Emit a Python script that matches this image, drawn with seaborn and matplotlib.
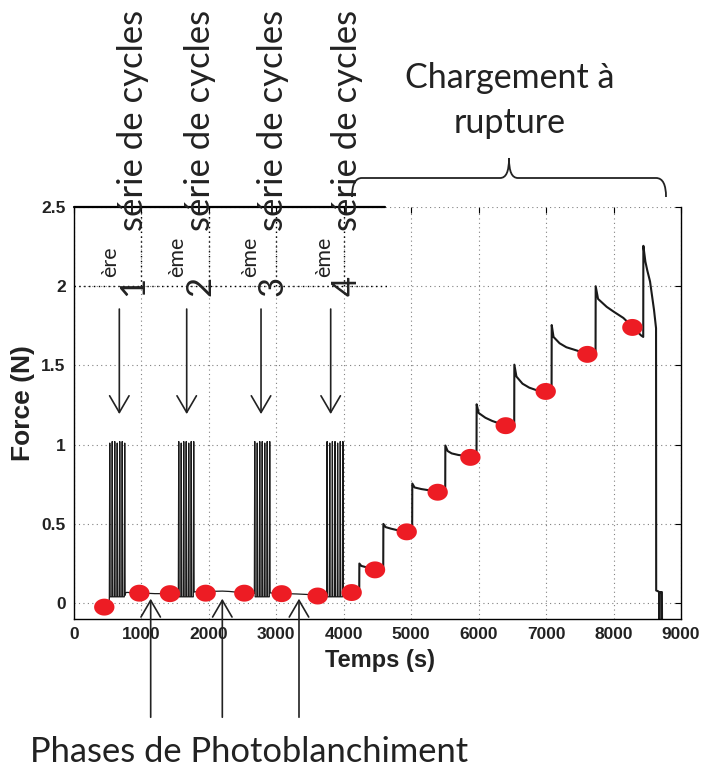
import numpy as np
import pandas as pd
import matplotlib
matplotlib.use("Agg")
import matplotlib.pyplot as plt
import seaborn as sns
from matplotlib.path import Path
from matplotlib.patches import PathPatch
from matplotlib.transforms import Affine2D

# ---------------- data ----------------
pre_t = [380, 450, 500, 520, 524]
pre_f = [-0.02, -0.025, -0.015, -0.01, 0.04]

block1_t = [530, 536, 561, 567, 573, 598, 604, 610, 635, 641, 647, 672, 678, 684, 709, 715, 721, 746, 752, 758, 766]
block1_f = [1.01, 0.04, 0.04, 1.02, 0.04, 0.04, 1.02, 0.04, 0.04, 1.01, 0.04, 0.04, 1.02, 0.04, 0.04, 1.02, 0.04, 0.04, 1.01, 0.05, 0.065]
rest1_t = [780, 900, 1000, 1100, 1200, 1300, 1420, 1500, 1547]
rest1_f = [0.068, 0.065, 0.063, 0.062, 0.06, 0.06, 0.06, 0.063, 0.065]

block2_t = [1553, 1559, 1584, 1590, 1596, 1621, 1627, 1633, 1658, 1664, 1670, 1695, 1701, 1707, 1732, 1738, 1744, 1769, 1775, 1781]
block2_f = [1.02, 0.04, 0.04, 1.01, 0.04, 0.04, 1.02, 0.04, 0.04, 1.02, 0.04, 0.04, 1.01, 0.04, 0.04, 1.02, 0.04, 0.04, 1.02, 0.07]
rest2_t = [1800, 1950, 2100, 2200, 2300, 2450, 2550, 2674]
rest2_f = [0.072, 0.07, 0.075, 0.076, 0.074, 0.068, 0.065, 0.063]

block3_t = [2680, 2686, 2711, 2717, 2723, 2748, 2754, 2760, 2785, 2791, 2797, 2822, 2828, 2834, 2859, 2865, 2871, 2896, 2902, 2908]
block3_f = [1.02, 0.04, 0.04, 1.01, 0.04, 0.04, 1.02, 0.04, 0.04, 1.02, 0.04, 0.04, 1.01, 0.04, 0.04, 1.02, 0.04, 0.04, 1.02, 0.065]
rest3_t = [2930, 3050, 3150, 3300, 3450, 3600, 3700, 3747]
rest3_f = [0.064, 0.062, 0.06, 0.058, 0.055, 0.05, 0.05, 0.05]

block4_t = [3753, 3759, 3786, 3792, 3798, 3825, 3831, 3837, 3864, 3870, 3876, 3903, 3909, 3915, 3942, 3948, 3954, 3981, 3987, 3993]
block4_f = [1.02, 0.04, 0.04, 1.01, 0.04, 0.04, 1.02, 0.04, 0.04, 1.02, 0.04, 0.04, 1.01, 0.04, 0.04, 1.02, 0.04, 0.04, 1.02, 0.06]
rest4_t = [4010, 4100, 4200, 4229]
rest4_f = [0.062, 0.065, 0.065, 0.065]

ramp_t = [4231, 4260, 4350, 4460, 4585,
          4587, 4620, 4700, 4800, 4933, 5014,
          5016, 5050, 5150, 5300, 5400, 5504,
          5506, 5540, 5600, 5700, 5800, 5968,
          5970, 6000, 6100, 6200, 6300, 6400, 6527,
          6529, 6560, 6650, 6750, 6850, 7000, 7081,
          7083, 7110, 7200, 7300, 7450, 7600, 7733,
          7735, 7770, 7898, 8000, 8145, 8279, 8407, 8440]
ramp_f = [0.25, 0.235, 0.225, 0.215, 0.21,
          0.50, 0.48, 0.47, 0.46, 0.455, 0.45,
          0.755, 0.73, 0.72, 0.71, 0.70, 0.695,
          0.995, 0.96, 0.945, 0.935, 0.93, 0.915,
          1.255, 1.20, 1.17, 1.15, 1.135, 1.125, 1.11,
          1.505, 1.43, 1.385, 1.36, 1.345, 1.335, 1.33,
          1.755, 1.68, 1.64, 1.615, 1.595, 1.575, 1.565,
          2.00, 1.92, 1.87, 1.84, 1.80, 1.745, 1.69, 1.68]

rupture_t = [8442, 8472, 8500, 8541, 8600, 8630, 8632, 8660, 8677, 8679, 8681, 8700, 8717, 8719]
rupture_f = [2.255, 2.155, 2.10, 2.03, 1.85, 1.735, 0.08, 0.075, 0.07, -0.15, 0.07, 0.07, 0.07, -0.15]

dot_t = [449, 969, 1423, 1952, 2525, 3079, 3613, 4117, 4463, 4933, 5392, 5877, 6401, 6994, 7612, 8279]
dot_f = [-0.025, 0.063, 0.06, 0.063, 0.063, 0.06, 0.045, 0.067, 0.21, 0.45, 0.70, 0.92, 1.12, 1.336, 1.57, 1.74]

x_ticks = [0, 1000, 2000, 3000, 4000, 5000, 6000, 7000, 8000, 9000]
y_ticks = [0, 0.5, 1, 1.5, 2, 2.5]
y_tick_labels = ["0", "0.5", "1", "1.5", "2", "2.5"]

series_numbers = ["1", "2", "3", "4"]
series_suffix = ["ère", "ème", "ème", "ème"]
series_arrow_t = [672, 1671, 2773, 3806]
series_arrow_from, series_arrow_to = 1.856, 1.193
photo_arrow_t = [1137, 2199, 3336]
photo_arrow_from, photo_arrow_to = -0.72, 0.028

overlay_vx = [1000, 2000, 3000, 4000]

cycles_t = pre_t + block1_t + rest1_t + block2_t + rest2_t + block3_t + rest3_t + block4_t + rest4_t
cycles_f = pre_f + block1_f + rest1_f + block2_f + rest2_f + block3_f + rest3_f + block4_f + rest4_f
loading_t = rest4_t[-1:] + ramp_t + rupture_t
loading_f = rest4_f[-1:] + ramp_f + rupture_f
cycles = pd.DataFrame({"Temps": cycles_t, "Force": cycles_f})
loading = pd.DataFrame({"Temps": loading_t, "Force": loading_f})
dots = pd.DataFrame({"Temps": dot_t, "Force": dot_f})

# ---------------- figure ----------------
W, H = 702, 769
sns.set_theme(style="white")
plt.rcParams["font.family"] = ["Liberation Sans", "DejaVu Sans"]

fig = plt.figure(figsize=(W / 100, H / 100), dpi=100)
ax = fig.add_axes([74 / W, 1 - 619 / H, 607 / W, 412 / H])
px = Affine2D().scale(1 / W, -1 / H).translate(0, 1) + fig.transFigure

sns.lineplot(data=cycles, x="Temps", y="Force", sort=False, estimator=None,
             color="#1a1a1a", lw=0.9, ax=ax, zorder=2)
sns.lineplot(data=loading, x="Temps", y="Force", sort=False, estimator=None,
             color="#1a1a1a", lw=1.5, ax=ax, zorder=2)

th = np.linspace(0, 2 * np.pi, 40)
ellipse = Path(np.column_stack([1.2 * np.cos(th), np.sin(th)]), closed=True)
sns.scatterplot(data=dots, x="Temps", y="Force", marker=ellipse, s=215,
                color="#ED1C24", edgecolor="none", linewidth=0, ax=ax, zorder=3)

ax.set_xlim(0, 9000)
ax.set_ylim(-0.1, 2.5)
ax.set_xticks(x_ticks)
ax.set_xticklabels([str(v) for v in x_ticks])
ax.set_yticks(y_ticks)
ax.set_yticklabels(y_tick_labels)
ax.set_xlabel("")
ax.set_ylabel("")
ax.tick_params(direction="in", length=4, width=0.8, top=True, right=True,
               labelsize=12.5, pad=6, colors="black")
for lbl in ax.get_xticklabels() + ax.get_yticklabels():
    lbl.set_fontweight("bold")
    lbl.set_color("#222222")
ax.grid(True, color="0.5", linestyle=(0, (1, 3)), linewidth=0.8)
ax.spines["top"].set_visible(False)
for s in ["left", "bottom", "right"]:
    ax.spines[s].set_color("black")
    ax.spines[s].set_linewidth(1.0)

# partial black top border and black dotted overlay
ax.plot([0, 4611], [2.5, 2.5], color="black", lw=1.6, clip_on=False, zorder=4)
ax.hlines(2.0, 0, 4690, colors="black", linestyles=(0, (1, 2.5)), lw=1.0, zorder=1)
ax.vlines(overlay_vx, 2.0, 2.5, colors="black", linestyles=(0, (1, 2.5)), lw=1.0, zorder=1)

fig.text(380, 660, "Temps (s)", transform=px, ha="center", va="center",
         fontsize=17, fontweight="bold", color="#222222")
fig.text(23, 403, "Force (N)", transform=px, ha="center", va="center", rotation=90,
         fontsize=19, fontweight="bold", color="#222222")

# arrows
for t in series_arrow_t:
    ax.annotate("", xy=(t, series_arrow_to), xytext=(t, series_arrow_from),
                arrowprops=dict(arrowstyle="->,head_length=0.6,head_width=0.35",
                                color="#222222", lw=1.2, mutation_scale=20,
                                shrinkA=0, shrinkB=0))
for t in photo_arrow_t:
    ax.annotate("", xy=(t, photo_arrow_to), xytext=(t, photo_arrow_from),
                annotation_clip=False,
                arrowprops=dict(arrowstyle="->,head_length=0.6,head_width=0.35",
                                color="#222222", lw=1.2, mutation_scale=20,
                                shrinkA=0, shrinkB=0))

# series labels (rotated)
ann_font = ["Lato", "DejaVu Sans"]
col_base = [143, 210, 283, 357]
for xb, num, suf in zip(col_base, series_numbers, series_suffix):
    fig.text(xb, 296, num, transform=px, rotation=90, rotation_mode="anchor",
             ha="left", va="baseline", fontsize=25, family=ann_font, color="#222222")
    fig.text(xb - 27, 277, suf, transform=px, rotation=90, rotation_mode="anchor",
             ha="left", va="baseline", fontsize=15.5, family=ann_font, color="#222222")
    fig.text(xb, 231, "série de cycles", transform=px, rotation=90, rotation_mode="anchor",
             ha="left", va="baseline", fontsize=25, family=ann_font, color="#222222")

fig.text(510, 88, "Chargement à", transform=px, ha="center", va="baseline",
         fontsize=24.5, family=ann_font, color="#222222")
fig.text(510, 133, "rupture", transform=px, ha="center", va="baseline",
         fontsize=24.5, family=ann_font, color="#222222")
fig.text(30, 762, "Phases de Photoblanchiment", transform=px, ha="left", va="baseline",
         fontsize=24.8, family=ann_font, color="#222222")

# curly brace
verts = [(352, 197), (352, 185), (355, 178), (362, 178),
         (500, 178),
         (506, 178), (509, 172), (509, 158),
         (509, 172), (512, 178), (518, 178),
         (656, 178),
         (663, 178), (666, 185), (666, 197)]
codes = [Path.MOVETO, Path.CURVE4, Path.CURVE4, Path.CURVE4,
         Path.LINETO,
         Path.CURVE4, Path.CURVE4, Path.CURVE4,
         Path.CURVE4, Path.CURVE4, Path.CURVE4,
         Path.LINETO,
         Path.CURVE4, Path.CURVE4, Path.CURVE4]
fig.patches.append(PathPatch(Path(verts, codes), transform=px, fill=False,
                             edgecolor="#222222", lw=1.3))

fig.savefig("out.png", dpi=100)
